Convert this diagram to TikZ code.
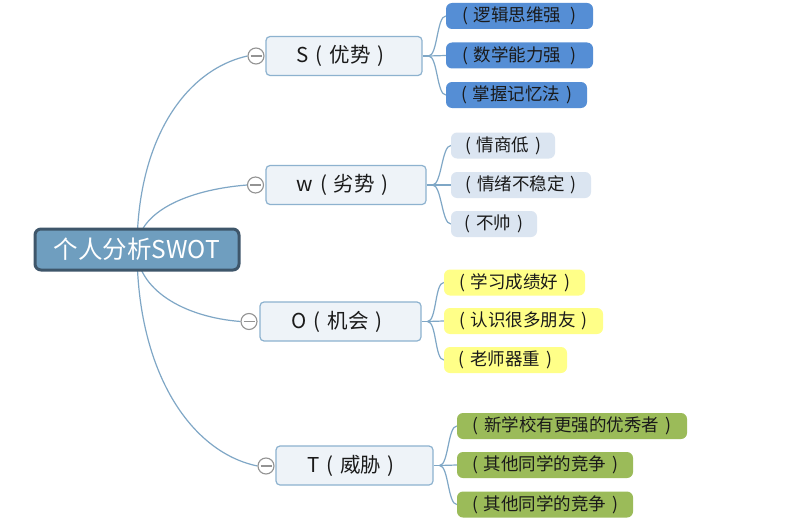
\documentclass[tikz,border=0pt]{standalone}
\usepackage{fontspec}
\setmainfont{Noto Sans CJK SC}
\usetikzlibrary{backgrounds}
\newcommand\lpar{\makebox[1em][c]{(}}
\newcommand\rpar{\makebox[1em][c]{)}}
\definecolor{conncol}{HTML}{7FA7C6}
\definecolor{rootfill}{HTML}{6F9EBF}
\definecolor{rootdraw}{HTML}{3E566A}
\definecolor{mainfill}{HTML}{EEF3F8}
\definecolor{maindraw}{HTML}{8DB2CF}
\definecolor{sfill}{HTML}{558ED5}
\definecolor{wfill}{HTML}{DBE5F1}
\definecolor{ofill}{HTML}{FFFF88}
\definecolor{tfill}{HTML}{9BBB59}
\definecolor{txt}{HTML}{1A1A1A}
\tikzset{
  rootbox/.style={draw=rootdraw, line width=3pt, fill=rootfill, rounded corners=6pt,
    minimum width=204pt, minimum height=41pt, inner sep=0pt, text=white, font=\fontsize{24.5}{27}\selectfont},
  mainbox/.style={draw=maindraw, line width=1.2pt, fill=mainfill, rounded corners=4pt,
    minimum height=39pt, inner sep=0pt, text=txt, font=\fontsize{20.5}{23}\selectfont},
  leaf/.style={rounded corners=6pt, minimum height=26pt, inner sep=0pt, text=txt,
    font=\fontsize{17.5}{20}\selectfont},
  sleaf/.style={leaf, fill=sfill},
  wleaf/.style={leaf, fill=wfill},
  oleaf/.style={leaf, fill=ofill},
  tleaf/.style={leaf, fill=tfill},
  knob/.style={circle, draw=gray!85, line width=1.1pt, fill=white, minimum size=16pt, inner sep=0pt},
  conn/.style={draw=conncol, line width=1.2pt},
  minus/.style={draw=gray!85, line width=1.2pt}
}
\begin{document}
\begin{tikzpicture}[x=1pt,y=-1pt]
\useasboundingbox (0,0) rectangle (787,527);
% root
\node[rootbox] (root) at (137,249.5) {个人分析SWOT};
% main nodes
\node[mainbox, minimum width=156pt] (S) at (344,56) {S\lpar 优势\rpar};
\node[mainbox, minimum width=160pt] (W) at (346,185) {w\lpar 劣势\rpar};
\node[mainbox, minimum width=161pt] (O) at (340.5,321.5) {O\lpar 机会\rpar};
\node[mainbox, minimum width=157pt] (T) at (354.5,465.5) {T\lpar 威胁\rpar};
% knobs
\node[knob] (kS) at (256,56) {};
\node[knob] (kW) at (255.5,185) {};
\node[knob] (kO) at (249,321.5) {};
\node[knob] (kT) at (266,466) {};
\foreach \k in {kS,kW,kO,kT}{
  \draw[minus] ([xshift=-5.5pt]\k.center) -- ([xshift=5.5pt]\k.center);
}
% S leaves
\node[sleaf, minimum width=147pt] (s1) at (519.5,16) {\lpar 逻辑思维强 \rpar};
\node[sleaf, minimum width=147pt] (s2) at (519.5,55.5) {\lpar 数学能力强 \rpar};
\node[sleaf, minimum width=141pt] (s3) at (516.5,95) {\lpar 掌握记忆法\rpar};
% W leaves
\node[wleaf, minimum width=104pt] (w1) at (503,145.5) {\lpar 情商低\rpar};
\node[wleaf, minimum width=140pt] (w2) at (521,185) {\lpar 情绪不稳定\rpar};
\node[wleaf, minimum width=86pt] (w3) at (494,224) {\lpar 不帅\rpar};
% O leaves
\node[oleaf, minimum width=141pt] (o1) at (514.5,282.5) {\lpar 学习成绩好\rpar};
\node[oleaf, minimum width=159pt] (o2) at (523.5,321) {\lpar 认识很多朋友\rpar};
\node[oleaf, minimum width=123pt] (o3) at (505.5,360) {\lpar 老师器重\rpar};
% T leaves
\node[tleaf, minimum width=230pt] (t1) at (572,426) {\lpar 新学校有更强的优秀者\rpar};
\node[tleaf, minimum width=176pt] (t2) at (545,465) {\lpar 其他同学的竞争\rpar};
\node[tleaf, minimum width=176pt] (t3) at (545,504.5) {\lpar 其他同学的竞争\rpar};
% forks
\coordinate (fS) at ([xshift=6pt]S.east);
\coordinate (fW) at ([xshift=6pt]W.east);
\coordinate (fO) at ([xshift=6pt]O.east);
\coordinate (fT) at ([xshift=6pt]T.east);
\begin{scope}[on background layer]
\fill[white] (0,0) rectangle (787,527);
\draw[conn] (root.center) .. controls (137,140) and (185,70) .. (kS.west);
\draw[conn] (root.center) .. controls (137,213) and (185,190) .. (kW.west);
\draw[conn] (root.center) .. controls (137,289) and (183,317) .. (kO.west);
\draw[conn] (root.center) .. controls (137,371) and (190,452) .. (kT.west);
\foreach \m/\a/\b/\c in {S/s1/s2/s3, W/w1/w2/w3, O/o1/o2/o3, T/t1/t2/t3}{
  \draw[conn] (\m.east) -- (f\m);
  \draw[conn] (f\m) .. controls ([xshift=9pt]f\m) and ([xshift=-9pt]\a.west) .. (\a.west);
  \draw[conn] (f\m) -- (\b.west);
  \draw[conn] (f\m) .. controls ([xshift=9pt]f\m) and ([xshift=-9pt]\c.west) .. (\c.west);
}
\end{scope}
\end{tikzpicture}
\end{document}
